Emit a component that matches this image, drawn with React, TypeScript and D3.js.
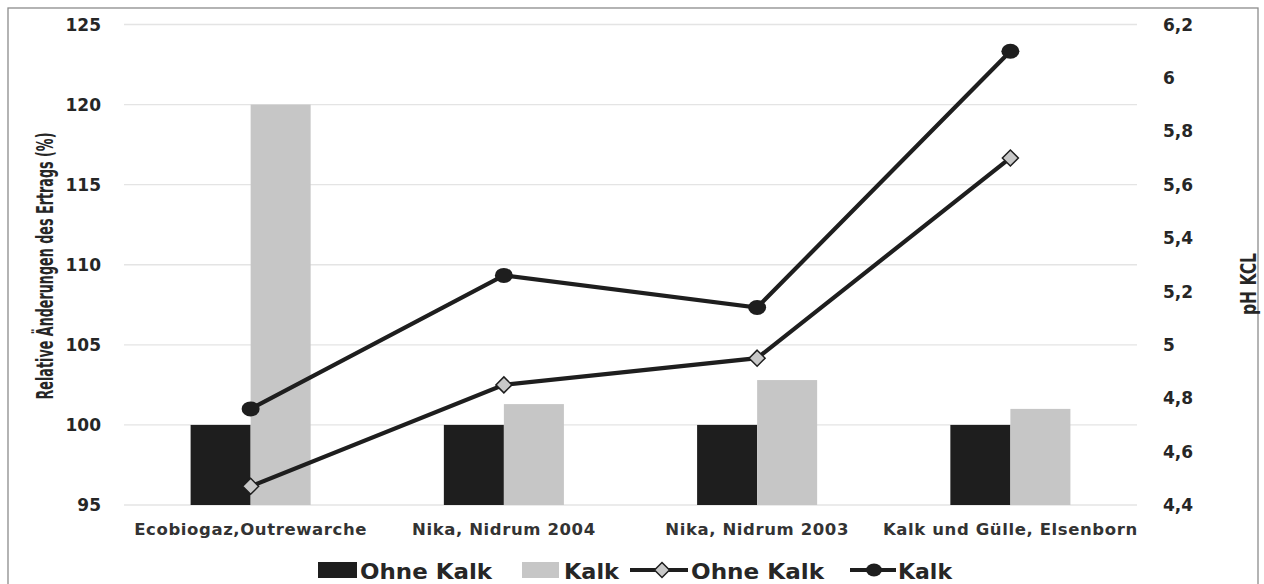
import React, { useLayoutEffect, useRef, useState } from 'react';
import * as d3 from 'd3';

const categories = ['Ecobiogaz,Outrewarche', 'Nika, Nidrum 2004', 'Nika, Nidrum 2003', 'Kalk und Gülle, Elsenborn'];
const barOhneKalk = [100, 100, 100, 100];
const barKalk = [120, 101.3, 102.8, 101.0];
const phOhneKalk = [4.47, 4.85, 4.95, 5.7];
const phKalk = [4.76, 5.26, 5.14, 6.1];
const leftTicks = [95, 100, 105, 110, 115, 120, 125];
const rightTicks = [4.4, 4.6, 4.8, 5, 5.2, 5.4, 5.6, 5.8, 6, 6.2];

const W = 1264, H = 584;
const plot = { left: 124, right: 1137, top: 24.5, bottom: 505 };

const BLACK = '#1e1e1e';
const GRAY = '#c6c6c6';
const tickFont = '"DejaVu Sans", sans-serif';
const narrowFont = '"DejaVu Sans Condensed", "Liberation Sans Narrow", sans-serif';

// rotated title squeezed to a given length (the original uses a narrow font)
function VTitle({ x, y, len, size, children }: { x: number; y: number; len: number; size: number; children: string }) {
  const ref = useRef<SVGTextElement>(null);
  const [k, setK] = useState(1);
  useLayoutEffect(() => {
    if (ref.current) {
      const w = ref.current.getComputedTextLength();
      if (w > 0) setK(len / w);
    }
  }, [len]);
  return (
    <text ref={ref} transform={`translate(${x},${y}) rotate(-90) scale(${k},1)`} textAnchor="middle"
      fontFamily={narrowFont} fontWeight="bold" fontSize={size} fill="#262626">
      {children}
    </text>
  );
}

export default function App() {
  const x = d3.scaleBand<string>().domain(categories).range([plot.left, plot.right]).paddingInner(0.526).paddingOuter(0.263);
  const sub = d3.scaleBand<string>().domain(['o', 'k']).range([0, x.bandwidth()]);
  const yL = d3.scaleLinear().domain([95, 125]).range([plot.bottom, plot.top]);
  const yR = d3.scaleLinear().domain([4.4, 6.2]).range([plot.bottom, plot.top]);
  const cx = (c: string) => (x(c) as number) + x.bandwidth() / 2;

  const line = d3.line<number>().x((_, i) => cx(categories[i])).y(d => yR(d));
  const fmt = (v: number) => String(v).replace('.', ',');

  const diamond = (px: number, py: number, r = 8) =>
    `M${px},${py - r}L${px + r},${py}L${px},${py + r}L${px - r},${py}Z`;

  return (
    <svg width={W} height={H} style={{ position: 'absolute', left: 0, top: 0 }}>
      <rect x={0} y={0} width={W} height={H} fill="#fff" />
      <rect x={8} y={8} width={1250} height={590} fill="none" stroke="#8c8c8c" strokeWidth={1.3} />

      {leftTicks.map(t => (
        <line key={t} x1={plot.left} x2={plot.right} y1={yL(t)} y2={yL(t)} stroke="#e4e4e4" strokeWidth={1.3} />
      ))}

      {categories.map((c, i) => (
        <g key={c}>
          <rect x={(x(c) as number) + (sub('o') as number)} y={yL(barOhneKalk[i])} width={sub.bandwidth()}
            height={yL(95) - yL(barOhneKalk[i])} fill={BLACK} />
          <rect x={(x(c) as number) + (sub('k') as number)} y={yL(barKalk[i])} width={sub.bandwidth()}
            height={yL(95) - yL(barKalk[i])} fill={GRAY} />
        </g>
      ))}

      <path d={line(phOhneKalk) as string} fill="none" stroke={BLACK} strokeWidth={4.2} />
      <path d={line(phKalk) as string} fill="none" stroke={BLACK} strokeWidth={4.2} />
      {phOhneKalk.map((v, i) => (
        <path key={i} d={diamond(cx(categories[i]), yR(v))} fill="#c8c8c8" stroke={BLACK} strokeWidth={1.5} />
      ))}
      {phKalk.map((v, i) => (
        <ellipse key={i} cx={cx(categories[i])} cy={yR(v)} rx={9} ry={7.5} fill={BLACK} />
      ))}

      {leftTicks.map(t => (
        <text key={t} x={101} y={yL(t)} dy="0.36em" textAnchor="end" fontFamily={tickFont} fontWeight="bold"
          fontSize={17} fill="#262626">{t}</text>
      ))}
      {rightTicks.map(t => (
        <text key={t} x={1163} y={yR(t)} dy="0.36em" textAnchor="start" fontFamily={tickFont} fontWeight="bold"
          fontSize={17} fill="#262626">{fmt(t)}</text>
      ))}

      {categories.map(c => (
        <text key={c} x={cx(c)} y={535} textAnchor="middle" fontFamily={tickFont} fontWeight="600"
          fontSize={16.5} letterSpacing={0.6} fill="#333">{c}</text>
      ))}

      <VTitle x={53} y={266} len={267} size={23}>Relative Änderungen des Ertrags (%)</VTitle>
      <VTitle x={1256} y={284} len={62} size={21}>pH KCL</VTitle>

      <g fontFamily={tickFont} fontWeight="bold" fontSize={21} fill="#262626">
        <rect x={318} y={562} width={39} height={16} fill={BLACK} />
        <text x={360} y={579} textLength={132} lengthAdjust="spacingAndGlyphs">Ohne Kalk</text>
        <rect x={522} y={562} width={37} height={16} fill={GRAY} />
        <text x={564} y={579} textLength={55} lengthAdjust="spacingAndGlyphs">Kalk</text>
        <line x1={630} x2={688} y1={570} y2={570} stroke={BLACK} strokeWidth={4.2} />
        <path d={diamond(662, 570, 7.5)} fill="#c8c8c8" stroke={BLACK} strokeWidth={1.5} />
        <text x={691} y={579} textLength={133} lengthAdjust="spacingAndGlyphs">Ohne Kalk</text>
        <line x1={850} x2={896} y1={570} y2={570} stroke={BLACK} strokeWidth={4.2} />
        <ellipse cx={874} cy={570} rx={8} ry={6.5} fill={BLACK} />
        <text x={898} y={579} textLength={54} lengthAdjust="spacingAndGlyphs">Kalk</text>
      </g>
    </svg>
  );
}
